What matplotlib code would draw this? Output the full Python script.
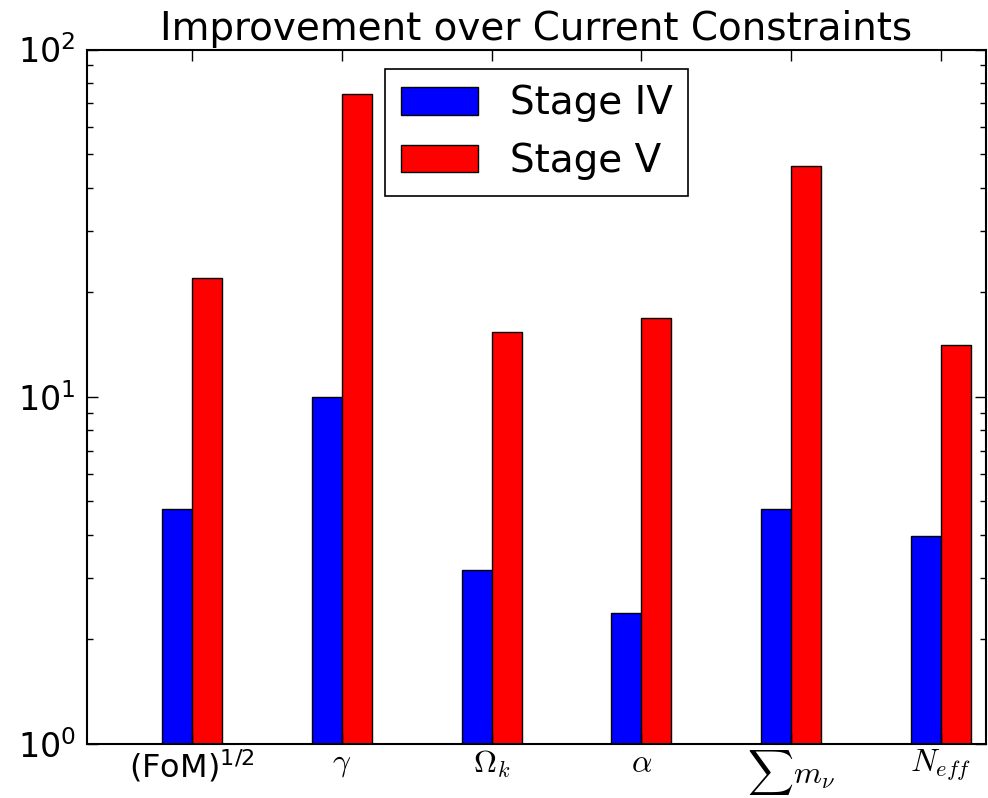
import matplotlib
matplotlib.use("Agg")
import matplotlib.pyplot as plt
import numpy as np

categories = [r"(FoM)$^{1/2}$", r"$\gamma$", r"$\Omega_k$", r"$\alpha$", r"$\sum m_\nu$", r"$N_{eff}$"]
stage_iv = [4.76, 10.0, 3.17, 2.39, 4.76, 3.98]
stage_v = [22.0, 74.5, 15.4, 16.9, 46.3, 14.1]
series_names = ["Stage IV", "Stage V"]

fig = plt.figure(figsize=(9.88, 7.98), dpi=100)
ax = fig.add_axes([87/988, 54/798, (986-87)/988, (743.5-49)/798])

x = np.arange(len(categories))
w = 0.2
ax.bar(x, stage_iv, width=-w, align="edge", color="blue", edgecolor="black", linewidth=1, label=series_names[0])
ax.bar(x, stage_v, width=w, align="edge", color="red", edgecolor="black", linewidth=1, label=series_names[1])

ax.set_yscale("log")
ax.set_ylim(1, 100)
ax.set_xlim(-0.7, 5.3)
ax.set_xticks(x)
ax.set_xticklabels(categories)
for i, lab in enumerate(ax.get_xticklabels()):
    lab.set_fontsize(23)
    if i == 0:
        lab.set_math_fontfamily("dejavusans")
    else:
        lab.set_math_fontfamily("cm")
for lab in ax.get_yticklabels():
    lab.set_fontsize(24)

ax.tick_params(axis="both", which="both", direction="in", top=True, right=True)
ax.tick_params(axis="both", which="major", length=8, width=1)
ax.tick_params(axis="y", which="major", pad=8)
ax.tick_params(axis="x", which="major", pad=3)
ax.tick_params(axis="y", which="minor", length=4, width=1)
ax.tick_params(axis="x", which="minor", bottom=False, top=False)
for s in ax.spines.values():
    s.set_linewidth(1.5)

ax.set_title("Improvement over Current Constraints", fontsize=28, pad=7)

leg = ax.legend(loc="upper center", fontsize=28, fancybox=False, framealpha=1,
                edgecolor="black", borderaxespad=0.5)
leg.get_frame().set_linewidth(1.2)

fig.savefig("out.png", dpi=100)
